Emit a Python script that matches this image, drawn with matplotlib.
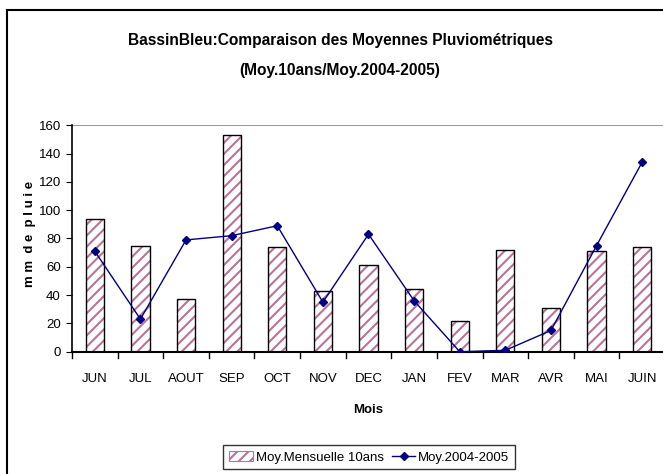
import matplotlib
matplotlib.use("Agg")
import matplotlib.pyplot as plt
from matplotlib.lines import Line2D
import numpy as np

mois = ["JUN", "JUL", "AOUT", "SEP", "OCT", "NOV", "DEC", "JAN", "FEV", "MAR", "AVR", "MAI", "JUIN"]
moy_10ans = [94, 75, 37, 153, 74, 43, 61, 44, 22, 72, 31, 71, 74]
moy_2004_2005 = [71, 23, 79, 82, 89, 35, 83, 36, 0, 1, 15, 75, 134]

plt.rcParams['font.family'] = ['Liberation Sans', 'DejaVu Sans']
plt.rcParams['hatch.linewidth'] = 1.5
plt.rcParams['hatch.color'] = '#B8739A'

fig = plt.figure(figsize=(6.63, 4.74), dpi=100)
ax = fig.add_axes([0.1086, 0.258, 0.8944, 0.4777])

x = np.arange(len(mois))
# hatch fill first, then the black outline on top
ax.bar(x, moy_10ans, width=0.4, color='white', edgecolor='#B8739A', hatch='///', linewidth=0, zorder=2)
ax.bar(x, moy_10ans, width=0.4, color='none', edgecolor='black', linewidth=1.0, zorder=3)
ax.plot(x, moy_2004_2005, color='#000080', marker='D', markersize=4.5, linewidth=1.0, zorder=4)

ax.set_xlim(-0.5, len(mois) - 0.5)
ax.set_ylim(0, 160)
ax.set_yticks(range(0, 161, 20))
ax.set_xticks(x)
ax.set_xticklabels(mois)
ax.tick_params(axis='x', which='major', length=0, pad=15, labelsize=9.5)
ax.tick_params(axis='y', direction='out', length=4, labelsize=9.5, pad=4)
for xm in np.arange(-0.5, len(mois), 1):
    ax.plot([xm, xm], [0, -4.5], color='black', linewidth=1.0, clip_on=False, zorder=5)

ax.spines['top'].set_visible(False)
ax.spines['right'].set_visible(False)
ax.spines['left'].set_linewidth(1.2)
ax.spines['bottom'].set_linewidth(1.5)
ax.axhline(160, color='#999999', linewidth=1.5, zorder=1)

ax.set_xlabel("Mois", fontweight='bold', fontsize=9.5, labelpad=14)
ax.set_ylabel("m m  d e  p l u i e", fontweight='bold', fontsize=9.5)
ax.yaxis.set_label_coords(-0.061, 0.52)

fig.text(0.513, 0.915, "BassinBleu:Comparaison des Moyennes Pluviométriques",
         ha='center', va='center', fontweight='bold', fontsize=11.2)
fig.text(0.513, 0.852, "(Moy.10ans/Moy.2004-2005)",
         ha='center', va='center', fontweight='bold', fontsize=11.2)

handles = [
    plt.Rectangle((0, 0), 1, 1, facecolor='white', edgecolor='#B8739A', hatch='///', linewidth=0.8),
    Line2D([0], [0], color='#000080', marker='D', markersize=4.5, linewidth=1.0),
]
leg = fig.legend(handles, ["Moy.Mensuelle 10ans", "Moy.2004-2005"], loc='center',
                 bbox_to_anchor=(0.557, 0.035), ncol=2, frameon=True, fancybox=False,
                 edgecolor='black', fontsize=9.5, handlelength=1.8, columnspacing=0.6,
                 handletextpad=0.2, borderpad=0.45)
leg.get_frame().set_linewidth(1.0)

# outer chart border (left and top visible)
fig.add_artist(Line2D([7 / 663, 7 / 663], [0, 1 - 10 / 474], color='black', linewidth=1.5))
fig.add_artist(Line2D([7 / 663, 1], [1 - 10 / 474, 1 - 10 / 474], color='black', linewidth=1.5))

fig.savefig("out.png", dpi=100)
